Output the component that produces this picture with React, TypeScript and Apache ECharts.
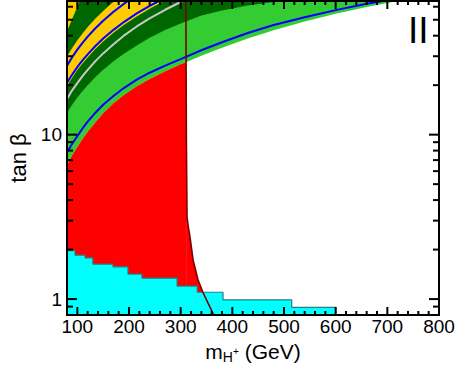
import { useEffect, useRef } from "react";
import * as echarts from "echarts";

const FONT = '"Liberation Sans", Arial, Helvetica, sans-serif';

// axis ranges and ticks
const X_MIN = 80;
const X_MAX = 800;
const Y_MIN = 0.8;
const Y_MAX = 65;
const xMajorTicks = [100, 200, 300, 400, 500, 600, 700, 800];
const xMinorTicks = [120, 140, 160, 180, 220, 240, 260, 280, 320, 340, 360, 380, 420, 440, 460, 480, 520, 540, 560, 580, 620, 640, 660, 680, 720, 740, 760, 780];
const yMajorTicks = [1, 10];
const yMinorTicks = [0.9, 2, 3, 4, 5, 6, 7, 8, 9, 20, 30, 40, 50, 60];

// boundary curves: [m_H+ (GeV), tan beta]
const yellowCornerEdge = [[80, 42.5], [85, 46.3], [90, 50.5], [95, 55], [100, 60], [104, 65]];
const yellowUpperEdge = [[80, 29.9], [90, 33.7], [100, 37.5], [110, 41.3], [120, 45.1], [135, 50.8], [150, 56.6], [165, 62.3], [172, 65]];
const yellowLowerEdge = [[80, 19.8], [90, 22.2], [100, 24.7], [110, 27.1], [120, 29.5], [135, 33.2], [150, 36.8], [170, 41.6], [190, 46.4], [215, 52.4], [240, 58.3], [268, 65]];
const darkGreenLowerEdge = [[80, 13.6], [90, 15.2], [100, 16.8], [110, 18.4], [120, 20], [135, 22.4], [150, 24.8], [170, 28], [190, 31], [215, 34.9], [240, 38.8], [270, 43.3], [300, 47.5], [340, 53], [380, 57], [430, 61], [480, 64], [500, 65]];
const lightGreenLowerEdge = [[80, 6.5], [90, 7.5], [100, 8.4], [110, 9.4], [120, 10.4], [135, 11.9], [150, 13.5], [170, 15.5], [190, 17.4], [215, 19.7], [240, 21.8], [270, 24.3], [300, 26.8], [310.5, 27.6], [340, 30.2], [380, 33.8], [430, 38.5], [480, 43.2], [540, 48.8], [600, 54.3], [660, 59.8], [720, 65]];
const redRightEdge = [[310.5, 27.6], [311, 10], [312.3, 3.16], [314.2, 2.83], [318, 2.39], [324, 1.73], [333.5, 1.31], [343, 1.1], [353, 0.945], [364, 0.8]];

// lines
const blueLineUpper = [[80, 26.3], [90, 29.6], [100, 32.9], [110, 36.2], [120, 39.5], [135, 44.4], [150, 49.3], [170, 55.9], [190, 62.4], [198, 65]];
const blueLineMiddle = [[80, 20.7], [90, 23.2], [100, 25.8], [110, 28.3], [120, 30.8], [135, 34.6], [150, 38.4], [170, 43.4], [190, 48.4], [215, 54.6], [240, 60.8], [258, 65]];
const grayLine = [[80, 16.5], [90, 18.6], [100, 20.6], [110, 22.7], [120, 24.8], [135, 28], [150, 31.2], [170, 35.5], [190, 40], [215, 45.5], [240, 51], [270, 57.5], [304, 65]];
const blueLineLower = [[80, 7.8], [90, 8.8], [100, 9.8], [110, 10.9], [120, 12], [135, 13.6], [150, 15.2], [170, 17.2], [190, 19.2], [215, 21.6], [240, 23.8], [270, 26.3], [300, 28.8], [340, 32.6], [380, 36.5], [430, 41.5], [480, 46.4], [540, 51.8], [600, 57.2], [660, 62.6], [692, 65]];
const brownLine = [[310, 65], [310.5, 27.6], [311, 10], [312.3, 3.16], [314.2, 2.83], [318, 2.39], [324, 1.73], [333.5, 1.31], [343, 1.1], [353, 0.945], [364, 0.8]];

// cyan excluded region (stepped)
const cyanMass = [80, 95.5, 115, 130, 169, 198, 225, 293, 332, 382, 515, 600, 600];
const cyanTanBeta = [1.97, 1.85, 1.78, 1.63, 1.57, 1.42, 1.34, 1.2, 1.1, 0.99, 0.89, 0.89, 0.8];

const area = (data: number[][], color: string, origin: string) => ({
  type: "line",
  data,
  smooth: false,
  symbol: "none",
  silent: true,
  z: 1,
  lineStyle: { width: 0, color },
  areaStyle: { color, opacity: 1, origin },
  xAxisIndex: 0,
  yAxisIndex: 0,
});

const curve = (data: number[][], color: string, width: number) => ({
  type: "line",
  data,
  smooth: false,
  symbol: "none",
  silent: true,
  z: 2,
  lineStyle: { width, color },
  xAxisIndex: 0,
  yAxisIndex: 0,
});

// tick marks on all four sides, placed through the axes' scales
const tickSeries = (xValues: number[], yValues: number[], xLen: number, yLen: number) => ({
  type: "custom",
  silent: true,
  z: 30,
  clip: false,
  coordinateSystem: "cartesian2d",
  xAxisIndex: 0,
  yAxisIndex: 0,
  data: [...xValues.map((v) => [v, Y_MIN, 0]), ...yValues.map((v) => [X_MIN, v, 1])],
  renderItem: (_params: any, api: any) => {
    const isY = api.value(2) === 1;
    const style = api.style({ stroke: "#000", fill: null, lineWidth: 2 });
    if (!isY) {
      const b = api.coord([api.value(0), Y_MIN]);
      const t = api.coord([api.value(0), Y_MAX]);
      return {
        type: "group",
        children: [
          { type: "line", shape: { x1: b[0], y1: b[1], x2: b[0], y2: b[1] - xLen }, style },
          { type: "line", shape: { x1: t[0], y1: t[1], x2: t[0], y2: t[1] + xLen }, style },
        ],
      };
    }
    const l = api.coord([X_MIN, api.value(1)]);
    const r = api.coord([X_MAX, api.value(1)]);
    return {
      type: "group",
      children: [
        { type: "line", shape: { x1: l[0], y1: l[1], x2: l[0] + yLen, y2: l[1] }, style },
        { type: "line", shape: { x1: r[0], y1: r[1], x2: r[0] - yLen, y2: r[1] }, style },
      ],
    };
  },
});

const axisLineStyle = { show: true, lineStyle: { color: "#000", width: 2 } };

function buildOption() {
  const xAxes = [
    {
      gridIndex: 0, type: "value", position: "bottom", min: X_MIN, max: X_MAX, z: 40,
      axisLine: axisLineStyle,
      axisTick: { show: false },
      splitLine: { show: false },
      axisLabel: { show: true, customValues: xMajorTicks, margin: 2, fontSize: 19, color: "#000", fontFamily: FONT },
      name: "{m|m}{sub|H}{sup|+}{m| (GeV)}",
      nameLocation: "middle",
      nameGap: 22,
      nameTextStyle: {
        color: "#000",
        rich: {
          m: { fontSize: 21, fontFamily: FONT, color: "#000", lineHeight: 26, verticalAlign: "middle" },
          sub: { fontSize: 14, fontFamily: FONT, color: "#000", lineHeight: 14, verticalAlign: "bottom" },
          sup: { fontSize: 10, fontFamily: FONT, color: "#000", lineHeight: 10, verticalAlign: "middle" },
        },
      },
    },
    {
      gridIndex: 0, type: "value", position: "top", min: X_MIN, max: X_MAX, z: 40,
      axisLine: axisLineStyle,
      axisTick: { show: false },
      splitLine: { show: false },
      axisLabel: { show: false },
    },
  ];
  const yAxes = [
    {
      gridIndex: 0, type: "log", logBase: 10, position: "left", min: Y_MIN, max: Y_MAX, z: 40,
      axisLine: axisLineStyle,
      axisTick: { show: false },
      splitLine: { show: false },
      axisLabel: { show: true, customValues: yMajorTicks, margin: 5, fontSize: 19, color: "#000", fontFamily: FONT },
      name: "tan β",
      nameLocation: "middle",
      nameGap: 38,
      nameTextStyle: { fontSize: 22, color: "#000", fontFamily: FONT },
    },
    {
      gridIndex: 0, type: "log", logBase: 10, position: "right", min: Y_MIN, max: Y_MAX, z: 40,
      axisLine: axisLineStyle,
      axisTick: { show: false },
      splitLine: { show: false },
      axisLabel: { show: false },
    },
  ];

  const cyanData = cyanMass.map((m, i) => [m, cyanTanBeta[i]]);
  const redLeft = lightGreenLowerEdge.filter((p) => p[0] <= 310.5);

  const series: any[] = [
    area(lightGreenLowerEdge, "#33cc33", "end"),
    area(darkGreenLowerEdge, "#006600", "end"),
    area(yellowLowerEdge, "#ffcc00", "end"),
    area(yellowUpperEdge, "#006600", "end"),
    area(yellowCornerEdge, "#ffcc00", "end"),
    area(redLeft, "#ff0000", "start"),
    area(redRightEdge, "#ff0000", "start"),
    {
      type: "line", data: cyanData, step: "end", symbol: "none", silent: true, z: 1,
      lineStyle: { color: "#2a7f7f", width: 1.2 },
      areaStyle: { color: "#00ffff", opacity: 1, origin: "start" },
      xAxisIndex: 0, yAxisIndex: 0,
    },
    curve(grayLine, "#c8c8c8", 2),
    curve(blueLineUpper, "#0000ff", 2),
    curve(blueLineMiddle, "#0000ff", 2),
    curve(blueLineLower, "#0000ff", 2),
    curve(brownLine, "#7a0000", 1.6),
    tickSeries(xMajorTicks, yMajorTicks, 8, 10),
    tickSeries(xMinorTicks, yMinorTicks, 4, 6),
  ];

  return {
    animation: false,
    backgroundColor: "#fff",
    grid: {
      left: 67, right: 16, top: 1, bottom: 51, containLabel: false,
      outerBounds: { left: -100, top: -100, right: -100, bottom: -100 },
    },
    xAxis: xAxes,
    yAxis: yAxes,
    series,
    graphic: [
      {
        type: "text", left: 408, top: 12, z: 100,
        style: { text: "II", fontSize: 37, fontFamily: FONT, fill: "#000" },
      },
    ],
  };
}

export default function App() {
  const ref = useRef<HTMLDivElement>(null);
  useEffect(() => {
    document.body.style.margin = "0";
    if (!ref.current) return;
    const chart = echarts.init(ref.current, undefined, { renderer: "svg" });
    chart.setOption(buildOption() as any);
    return () => chart.dispose();
  }, []);
  return (
    <div
      ref={ref}
      style={{ position: "absolute", left: 0, top: 0, width: 455, height: 366, background: "#fff" }}
    />
  );
}
